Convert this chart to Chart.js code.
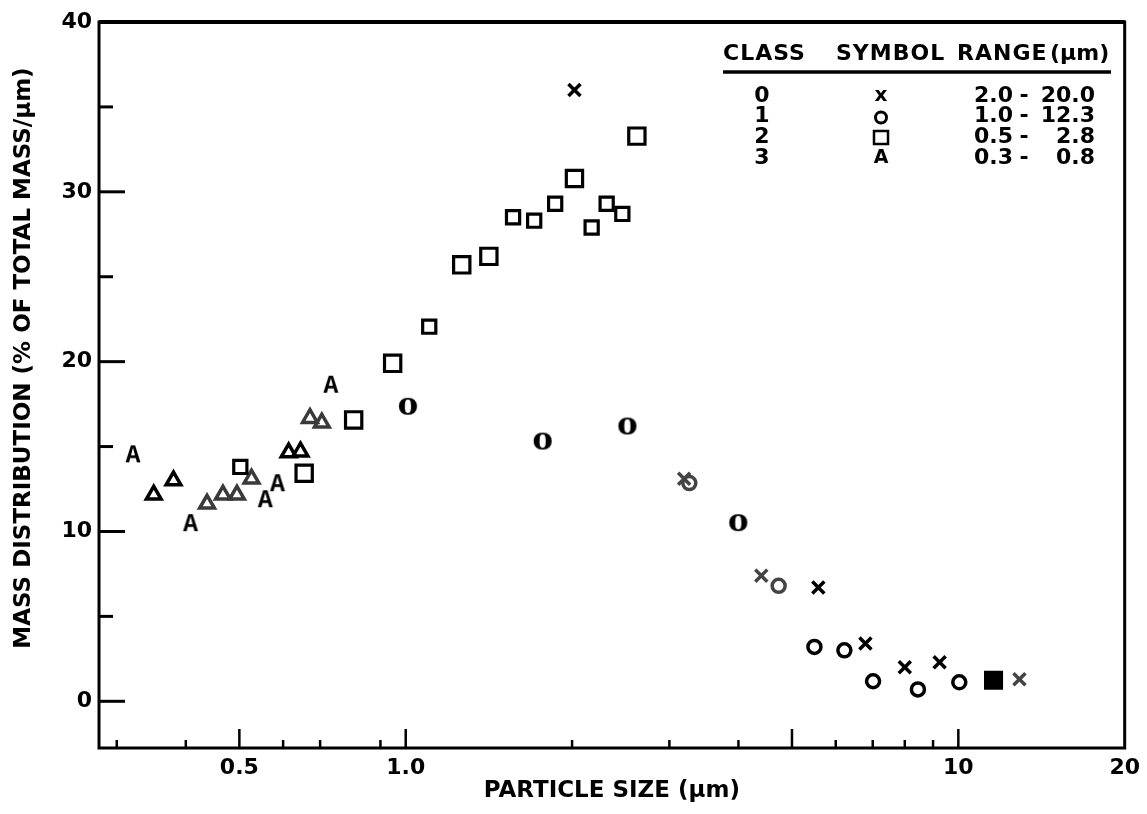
<!DOCTYPE html>
<html>
<head>
<meta charset="utf-8">
<script src="https://cdn.jsdelivr.net/npm/chart.js@4.4.0/dist/chart.umd.min.js"></script>
<style>
  html, body { margin: 0; padding: 0; background: #fff; }
  #c { display: block; }
</style>
</head>
<body>
<canvas id="c" width="1147" height="814"></canvas>
<script>
// class 0 : 2.0 - 20.0 um  (x)
const class0X = [2.02, 3.19, 4.40, 5.58, 6.79, 8.0, 9.25, 12.9];
const class0Y = [36.0, 13.1, 7.4, 6.7, 3.4, 2.0, 2.3, 1.3];
// class 1 : 1.0 - 12.3 um  (o)
const class1X = [1.01, 1.77, 2.52, 3.26, 4.0, 4.73, 5.49, 6.22, 7.01, 8.45, 10.04, 11.58];
const class1Y = [17.4, 15.35, 16.24, 12.85, 10.55, 6.8, 3.2, 3.0, 1.18, 0.7, 1.12, 1.24];
// class 2 : 0.5 - 2.8 um  (square)
const class2X = [0.502, 0.655, 0.805, 0.947, 1.103, 1.263, 1.414, 1.564, 1.708, 1.864, 2.02, 2.17, 2.31, 2.466, 2.62];
const class2Y = [13.8, 13.43, 16.57, 19.9, 22.06, 25.7, 26.2, 28.5, 28.3, 29.3, 30.79, 27.9, 29.3, 28.7, 33.28];
// class 3 : 0.3 - 0.8 um  (A / triangle)
const class3X = [0.321, 0.350, 0.380, 0.408, 0.437, 0.467, 0.495, 0.526, 0.557, 0.586, 0.614, 0.645, 0.671, 0.705, 0.732];
const class3Y = [14.6, 12.16, 13.0, 10.55, 11.63, 12.16, 12.16, 13.1, 11.96, 12.9, 14.65, 14.7, 16.67, 16.4, 18.7];

// axes
const xTickValues = [0.3, 0.4, 0.5, 0.6, 0.7, 0.9, 1, 2, 3, 4, 5, 6, 7, 8, 9, 10, 20];
const xTickLabels = { 0.5: '0.5', 1: '1.0', 10: '10', 20: '20' };
const xMajor = [0.5, 1, 5, 10];
const yTickValues = [0, 5, 10, 15, 20, 25, 30, 35, 40];

// legend table
const legendClasses = ['0', '1', '2', '3'];
const legendFrom = ['2.0', '1.0', '0.5', '0.3'];
const legendTo = ['20.0', '12.3', '2.8', '0.8'];

const BOLD = '"DejaVu Sans", "Liberation Sans", sans-serif';

// little canvases with letters, used as point styles
function glyph(ch, font, color) {
  const cv = document.createElement('canvas');
  cv.width = 40; cv.height = 40;
  const g = cv.getContext('2d');
  g.font = font;
  g.fillStyle = color;
  const m = g.measureText(ch);
  const w = m.actualBoundingBoxLeft + m.actualBoundingBoxRight;
  const h = m.actualBoundingBoxAscent + m.actualBoundingBoxDescent;
  g.fillText(ch, 20 - w / 2 + m.actualBoundingBoxLeft, 20 - h / 2 + m.actualBoundingBoxAscent);
  return cv;
}
const glyphA = glyph('A', 'bold 25px "Liberation Mono", monospace', '#000');
const glyphO = glyph('o', 'bold 31px "DejaVu Serif", serif', '#000');

const c3Style = class3X.map((_, i) => [0, 3, 8, 9, 14].includes(i) ? glyphA : 'triangle');
const c3Color = class3X.map((_, i) => [4, 5, 6, 7, 12, 13].includes(i) ? '#3a3a3a' : '#000');
const c1Style = class1X.map((_, i) => [0, 1, 2, 4].includes(i) ? glyphO : (i === 11 ? 'rect' : 'circle'));
const c1Fill = class1X.map((_, i) => i === 11 ? '#000' : 'transparent');
const c1Color = class1X.map((_, i) => [3, 5].includes(i) ? '#444' : '#000');
const c1Radius = class1X.map((_, i) => i === 11 ? 11 : 6.5);
const c2Radius = class2X.map(x => [0.655, 0.805, 0.947, 1.263, 1.414, 2.02, 2.62].includes(x) ? 11.5 : 9.3);
const c0Color = class0X.map((_, i) => [1, 2, 7].includes(i) ? '#444' : '#000');

const pts = (xs, ys) => xs.map((x, i) => ({ x, y: ys[i] }));

const framePlugin = {
  id: 'frame',
  afterDraw(chart) {
    const ctx = chart.ctx;
    const a = chart.chartArea;
    const xs = chart.scales.x, ys = chart.scales.y;
    ctx.save();
    ctx.strokeStyle = '#000';
    ctx.lineCap = 'butt';

    // frame
    ctx.lineWidth = 3;
    ctx.strokeRect(a.left, a.top, a.right - a.left, a.bottom - a.top);
    ctx.lineWidth = 4;
    ctx.beginPath(); ctx.moveTo(a.left, a.top); ctx.lineTo(a.right, a.top); ctx.stroke();

    // inward ticks
    ctx.lineWidth = 3;
    yTickValues.forEach(v => {
      const py = ys.getPixelForValue(v);
      const len = v % 10 === 0 ? 26 : 14;
      ctx.beginPath(); ctx.moveTo(a.left, py); ctx.lineTo(a.left + len, py); ctx.stroke();
    });
    ctx.lineWidth = 2.5;
    xTickValues.filter(v => v < 20).forEach(v => {
      const px = xs.getPixelForValue(v);
      const len = xMajor.includes(v) ? 19 : 8;
      ctx.beginPath(); ctx.moveTo(px, a.bottom); ctx.lineTo(px, a.bottom - len); ctx.stroke();
    });

    // axis titles
    ctx.fillStyle = '#000';
    ctx.textAlign = 'center';
    ctx.textBaseline = 'middle';
    ctx.font = 'bold 23px ' + BOLD;
    ctx.fillText('PARTICLE SIZE (\u03bcm)', (a.left + a.right) / 2, 791);
    ctx.save();
    ctx.translate(24, 358);
    ctx.rotate(-Math.PI / 2);
    ctx.font = 'bold 23px ' + BOLD;
    ctx.fillText('MASS DISTRIBUTION (% OF TOTAL MASS/\u03bcm)', 0, 0);
    ctx.restore();

    // legend table
    ctx.font = 'bold 22px ' + BOLD;
    ctx.textAlign = 'left';
    ctx.letterSpacing = '1px';
    ctx.fillText('CLASS', 723, 54);
    ctx.fillText('SYMBOL', 836, 54);
    ctx.fillText('RANGE', 957, 54);
    ctx.letterSpacing = '0px';
    ctx.fillText('(\u03bcm)', 1050, 54);
    ctx.lineWidth = 3.5;
    ctx.beginPath(); ctx.moveTo(723, 72); ctx.lineTo(1111, 72); ctx.stroke();

    const rowY = [96, 116.5, 137.5, 158];
    ctx.font = 'bold 22px ' + BOLD;
    legendClasses.forEach((cl, i) => {
      const y = rowY[i];
      ctx.textAlign = 'center';
      ctx.fillText(cl, 762, y);
      ctx.textAlign = 'right';
      ctx.fillText(legendFrom[i], 1013, y);
      ctx.fillText(legendTo[i], 1095, y);
      ctx.textAlign = 'center';
      ctx.fillText('-', 1024, y);
    });
    // legend symbols
    const sx = 881;
    ctx.textAlign = 'center';
    ctx.font = 'bold 20px ' + BOLD;
    ctx.fillText('x', sx, rowY[0]);
    ctx.lineWidth = 3;
    ctx.beginPath(); ctx.arc(sx, rowY[1] + 1, 5.5, 0, Math.PI * 2); ctx.stroke();
    ctx.lineWidth = 2.5;
    ctx.strokeRect(sx - 7, rowY[2] - 6.5, 14, 13);
    ctx.font = 'bold 19px ' + BOLD;
    ctx.fillText('A', sx, rowY[3]);
    ctx.restore();
  }
};

new Chart(document.getElementById('c'), {
  type: 'scatter',
  data: {
    datasets: [
      {
        label: 'Class 0',
        data: pts(class0X, class0Y),
        pointStyle: 'crossRot',
        pointRadius: 8.5,
        pointBorderWidth: 3.5,
        borderColor: c0Color,
        backgroundColor: c0Color
      },
      {
        label: 'Class 1',
        data: pts(class1X, class1Y),
        pointStyle: c1Style,
        pointRadius: c1Radius,
        pointBorderWidth: 3.5,
        borderColor: c1Color,
        backgroundColor: c1Fill
      },
      {
        label: 'Class 2',
        data: pts(class2X, class2Y),
        pointStyle: 'rect',
        pointRadius: c2Radius,
        pointBorderWidth: 3.2,
        borderColor: '#000',
        backgroundColor: 'transparent'
      },
      {
        label: 'Class 3',
        data: pts(class3X, class3Y),
        pointStyle: c3Style,
        pointRadius: 8.5,
        pointBorderWidth: 3.5,
        borderColor: c3Color,
        backgroundColor: 'transparent'
      }
    ]
  },
  options: {
    responsive: false,
    animation: false,
    devicePixelRatio: 1,
    layout: { padding: { left: 0, top: 22, right: 16, bottom: 0 } },
    plugins: {
      legend: { display: false },
      tooltip: { enabled: false }
    },
    scales: {
      x: {
        type: 'logarithmic',
        min: 0.2786,
        max: 20,
        grid: { display: false, drawTicks: false },
        border: { display: false },
        afterBuildTicks: s => { s.ticks = xTickValues.map(v => ({ value: v })); },
        afterFit: s => { s.height = 66; },
        ticks: {
          autoSkip: false,
          maxRotation: 0,
          padding: 7,
          color: '#000',
          font: { family: BOLD, size: 22, weight: 'bold' },
          callback: v => xTickLabels[v] || ''
        }
      },
      y: {
        min: -2.75,
        max: 40,
        grid: { display: false, drawTicks: false },
        border: { display: false },
        afterBuildTicks: s => { s.ticks = yTickValues.map(v => ({ value: v })); },
        afterFit: s => { s.width = 99; },
        ticks: {
          padding: 7,
          color: '#000',
          font: { family: BOLD, size: 22, weight: 'bold' },
          callback: v => v % 10 === 0 ? String(v) : ''
        }
      }
    }
  },
  plugins: [framePlugin]
});
</script>
</body>
</html>
